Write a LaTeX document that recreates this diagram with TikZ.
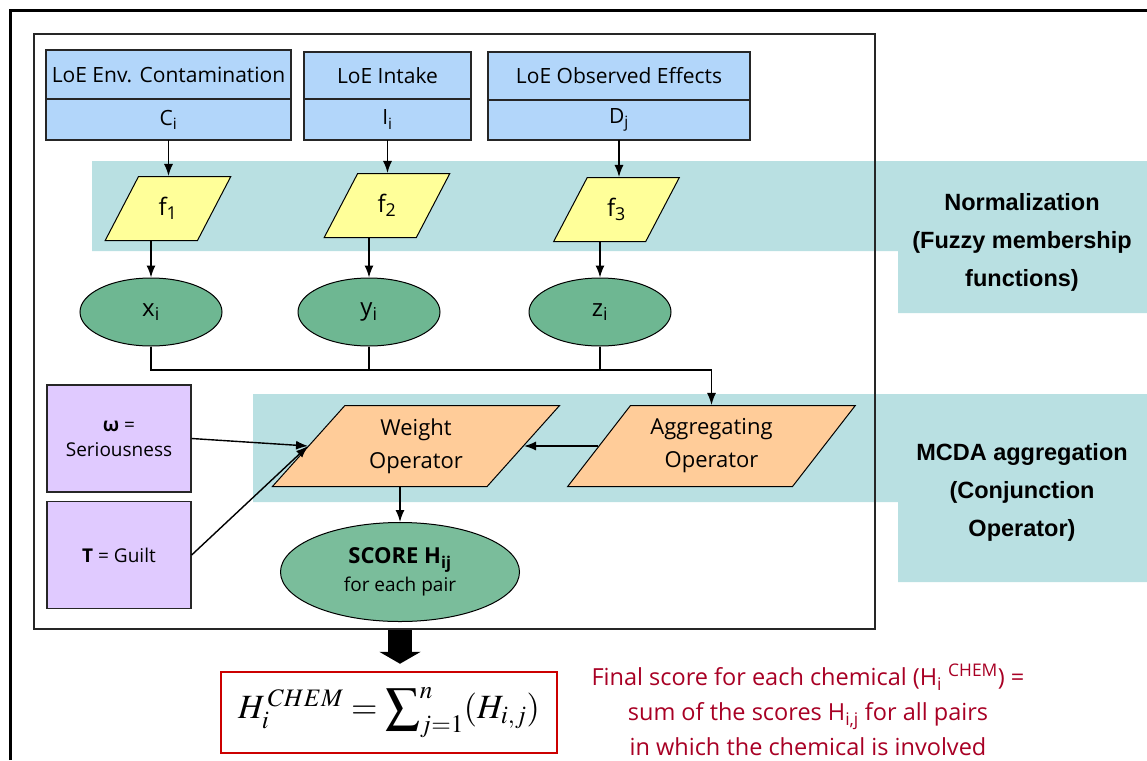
\documentclass[tikz,border=0pt]{standalone}
\usepackage{mathptmx}
\usepackage[no-math]{fontspec}
\newfontfamily\comicfont{Open Sans}
\newfontfamily\arialfont{Liberation Sans}
\usetikzlibrary{arrows.meta,positioning,shapes.geometric}
\definecolor{LoEBlue}{RGB}{178,214,250}
\definecolor{BandTeal}{RGB}{185,224,226}
\definecolor{FuzzYellow}{RGB}{255,255,153}
\definecolor{MembGreen}{RGB}{110,183,146}
\definecolor{OperOrange}{RGB}{255,204,153}
\definecolor{WeightLilac}{RGB}{224,202,255}
\definecolor{NoteRed}{RGB}{168,0,36}
\definecolor{BoxRed}{RGB}{204,0,0}

\begin{document}
\begin{tikzpicture}[x=1pt,y=-1pt,>={Latex[length=12pt,width=9pt]},
    txt/.style={font=\comicfont\fontsize{21}{25}\selectfont},
    loebox/.style={draw=black!85,line width=1.3pt,fill=LoEBlue,txt,
      inner sep=0pt,outer sep=0pt},
    fuzzy/.style={trapezium,trapezium left angle=65,trapezium right angle=115,
      trapezium stretches=true,draw,line width=1pt,fill=FuzzYellow,
      minimum width=126,minimum height=64,inner sep=0pt,
      font=\comicfont\fontsize{24}{28}\selectfont},
    memb/.style={ellipse,draw,line width=1pt,fill=MembGreen,
      minimum width=142,minimum height=68,inner sep=0pt,
      font=\comicfont\fontsize{24}{28}\selectfont},
    oper/.style={trapezium,trapezium left angle=49,trapezium right angle=131,
      trapezium stretches=true,draw,line width=1pt,fill=OperOrange,
      minimum width=288,minimum height=81,inner sep=0pt,align=center,
      font=\comicfont\fontsize{22}{33}\selectfont},
    weightbox/.style={draw=black!85,line width=1.3pt,fill=WeightLilac,
      minimum width=144,minimum height=107,inner sep=0pt,align=center,
      font=\comicfont\fontsize{19}{25}\selectfont},
    bandlbl/.style={align=center,font=\arialfont\bfseries\fontsize{23.5}{38}\selectfont},
    link/.style={->,line width=1.4pt}]
  \useasboundingbox (0,0) rectangle (1147,760);
  \fill[BandTeal] (92,161) rectangle (1147,251) (898,161) rectangle (1147,313);
  \fill[BandTeal] (253,394) rectangle (1147,502) (898,394) rectangle (1147,582);
  \draw[line width=3pt] (10,760) -- (10,11) -- (1147,11);
  \node[draw=black!85,line width=1.5pt,minimum width=841,minimum height=595,
    inner sep=0pt] (frame) at (454.5,331.5) {};

  \node[bandlbl] (normLbl) at (1022,242) {Normalization\\(Fuzzy membership\\functions)};
  \node[bandlbl] (mcdaLbl) at (1022,492) {MCDA aggregation\\(Conjunction\\Operator)};

  \node[loebox,minimum width=245,minimum height=49] (envHead) at (168.5,74.5)
    {LoE Env. Contamination};
  \node[loebox,minimum width=245,minimum height=41,below=0pt of envHead] (envSym)
    {C\textsubscript{i}};
  \node[loebox,minimum width=167,minimum height=47] (intHead) at (387.5,75.5)
    {LoE Intake};
  \node[loebox,minimum width=167,minimum height=41,below=0pt of intHead] (intSym)
    {I\textsubscript{i}};
  \node[loebox,minimum width=262,minimum height=48] (obsHead) at (619,76)
    {LoE Observed Effects};
  \node[loebox,minimum width=262,minimum height=40,below=0pt of obsHead] (obsSym)
    {D\textsubscript{j}};

  \node[fuzzy] (f1) at (168,208.5) {f\textsubscript{1}};
  \node[fuzzy] (f2) at (387,205.5) {f\textsubscript{2}};
  \node[fuzzy] (f3) at (616.5,209.5) {f\textsubscript{3}};

  \node[memb] (xi) at (151,312) {x\textsubscript{i}};
  \node[memb] (yi) at (369,312) {y\textsubscript{i}};
  \node[memb] (zi) at (600,312) {z\textsubscript{i}};

  \node[weightbox] (omega) at (119,438.5) {\textbf{ω} =\\Seriousness};
  \node[weightbox] (tau) at (119,555) {\textbf{T} = Guilt};

  \node[oper] (weight) at (416,446) {Weight\\Operator};
  \node[oper] (agg) at (711.5,446) {Aggregating\\Operator};

  \node[ellipse,draw,line width=1pt,fill=MembGreen!92!white,minimum width=239,
    minimum height=99,inner sep=0pt,align=center,
    font=\comicfont\fontsize{19}{28}\selectfont] (score) at (400,572)
    {{\fontsize{22}{28}\selectfont\bfseries SCORE H\textsubscript{ij}}\\for each pair};

  \node[draw=BoxRed,line width=2.5pt,minimum width=336,minimum height=81,
    inner sep=0pt,font=\fontsize{34}{40}\selectfont] (chem) at (389,712.5)
    {$H_i^{\,CHEM} = \displaystyle\sum\nolimits_{j=1}^{n}(H_{i,j})$};

  \node[align=center,text=NoteRed,font=\comicfont\fontsize{23.5}{35}\selectfont]
    (note) at (808,710)
    {Final score for each chemical (H\textsubscript{i} \textsuperscript{CHEM}) =\\
     sum of the scores H\textsubscript{i,j} for all pairs\\
     in which the chemical is involved};

  \draw[link] (envSym.south) -- (envSym.south |- f1.north);
  \draw[link] (intSym.south) -- (intSym.south |- f2.north);
  \draw[link] (obsSym.south) -- (obsSym.south |- f3.north);
  \draw[link] (xi.north |- f1.south) -- (xi.north);
  \draw[link] (yi.north |- f2.south) -- (yi.north);
  \draw[link] (zi.north |- f3.south) -- (zi.north);
  \coordinate (bus) at (agg.north |- 0,370);
  \draw[line width=1.4pt] (xi.south) |- (bus);
  \draw[line width=1.4pt] (yi.south) -- (yi.south |- bus);
  \draw[line width=1.4pt] (zi.south) -- (zi.south |- bus);
  \draw[link] (bus) -- (agg.north);
  \draw[link] (agg.left side) -- (weight.right side);
  \draw[link] (omega.east) -- (weight.left side);
  \draw[link] (tau.east) -- (weight.left side);
  \draw[link] (score.north |- weight.south) -- (score.north);
  \draw[line width=24pt,-{Triangle[length=12pt,width=41pt]},shorten >=7pt]
    (frame.south -| score) -- (chem.north -| score);
\end{tikzpicture}
\end{document}
